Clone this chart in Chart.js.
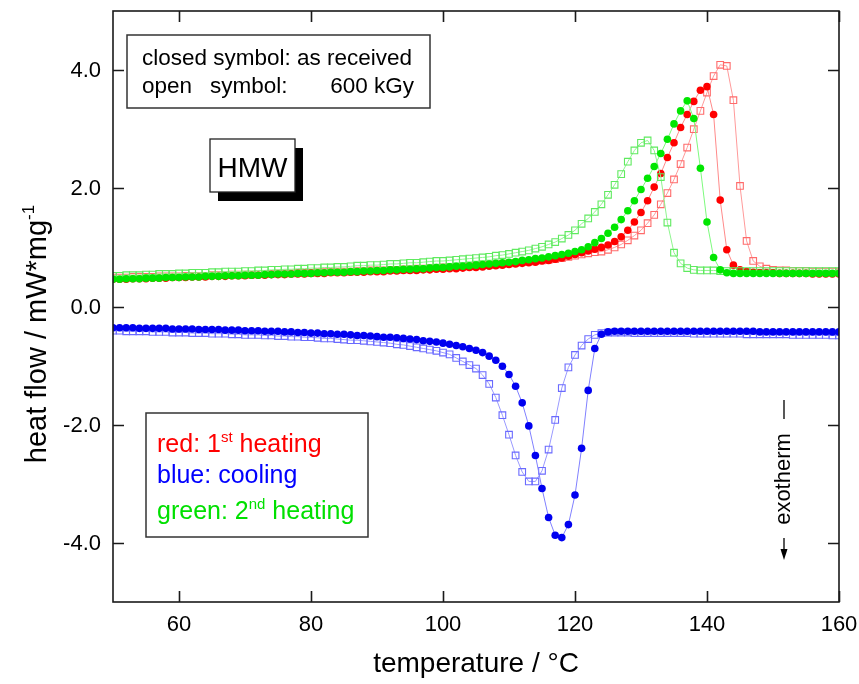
<!DOCTYPE html>
<html>
<head>
<meta charset="utf-8">
<script src="https://cdn.jsdelivr.net/npm/chart.js@4/dist/chart.umd.min.js"></script>
<style>
html,body{margin:0;padding:0;background:#fff;}
canvas{display:block;}
</style>
</head>
<body>
<canvas id="c" width="859" height="684"></canvas>
<script>
// ---------- DATA ----------
// temperature grid (°C), one sample per degree from 50 to 160
const temperature = Array.from({length: 111}, (_, i) => 50 + i);
const xTicks = [60, 80, 100, 120, 140, 160];
const yTicks = [-4, -2, 0, 2, 4];
const yTickLabels = ['-4.0', '-2.0', '0.0', '2.0', '4.0'];

// red: 1st heating, closed = as received
const heat1Received = [
  0.46,0.46,0.46,0.47,0.47,0.47,0.48,0.48,0.48,0.49,
  0.49,0.49,0.50,0.50,0.50,0.51,0.51,0.51,0.52,0.52,
  0.52,0.53,0.53,0.53,0.54,0.54,0.54,0.55,0.55,0.55,
  0.56,0.56,0.56,0.57,0.57,0.57,0.58,0.58,0.58,0.59,
  0.59,0.59,0.60,0.60,0.61,0.61,0.61,0.62,0.62,0.63,
  0.63,0.64,0.64,0.65,0.66,0.66,0.67,0.68,0.69,0.70,
  0.71,0.72,0.73,0.74,0.75,0.77,0.78,0.80,0.82,0.85,
  0.88,0.91,0.94,0.97,1.00,1.04,1.10,1.18,1.29,1.43,
  1.59,1.79,2.02,2.25,2.52,2.77,3.03,3.25,3.47,3.66,
  3.72,3.25,1.80,0.96,0.70,0.62,0.59,0.58,0.57,0.57,
  0.57,0.56,0.56,0.56,0.56,0.56,0.55,0.55,0.55,0.55,0.55
];
// red: 1st heating, open = 600 kGy
const heat1Irradiated = [
  0.49,0.49,0.49,0.50,0.50,0.50,0.50,0.51,0.51,0.51,
  0.51,0.52,0.52,0.52,0.52,0.53,0.53,0.53,0.54,0.54,
  0.54,0.54,0.55,0.55,0.55,0.56,0.56,0.56,0.57,0.57,
  0.57,0.58,0.58,0.58,0.59,0.59,0.59,0.60,0.60,0.61,
  0.61,0.61,0.62,0.62,0.63,0.63,0.64,0.64,0.65,0.65,
  0.66,0.66,0.67,0.68,0.68,0.69,0.70,0.70,0.71,0.72,
  0.73,0.74,0.75,0.76,0.77,0.78,0.79,0.80,0.82,0.84,
  0.86,0.88,0.90,0.92,0.93,0.96,1.00,1.05,1.12,1.20,
  1.29,1.41,1.55,1.73,1.92,2.15,2.41,2.69,3.00,3.31,
  3.62,3.90,4.09,4.07,3.49,2.04,1.11,0.77,0.68,0.64,
  0.62,0.61,0.61,0.60,0.60,0.60,0.59,0.59,0.59,0.59,0.58
];
// green: 2nd heating, closed = as received
const heat2Received = [
  0.46,0.46,0.47,0.47,0.47,0.48,0.48,0.48,0.49,0.49,
  0.49,0.50,0.50,0.50,0.51,0.51,0.51,0.52,0.52,0.52,
  0.53,0.53,0.53,0.54,0.54,0.55,0.55,0.55,0.56,0.56,
  0.56,0.57,0.57,0.58,0.58,0.58,0.59,0.59,0.60,0.60,
  0.61,0.61,0.62,0.62,0.63,0.63,0.64,0.64,0.65,0.66,
  0.66,0.67,0.68,0.68,0.69,0.70,0.71,0.72,0.73,0.74,
  0.75,0.76,0.78,0.79,0.81,0.82,0.84,0.86,0.88,0.90,
  0.93,0.96,1.01,1.08,1.15,1.24,1.34,1.47,1.62,1.79,
  1.98,2.17,2.37,2.59,2.83,3.09,3.31,3.48,3.18,2.34,
  1.43,0.83,0.62,0.57,0.56,0.56,0.56,0.56,0.56,0.56,
  0.56,0.56,0.56,0.56,0.56,0.56,0.56,0.56,0.56,0.56,0.56
];
// green: 2nd heating, open = 600 kGy
const heat2Irradiated = [
  0.52,0.52,0.53,0.53,0.53,0.54,0.54,0.55,0.55,0.55,
  0.56,0.56,0.57,0.57,0.57,0.58,0.58,0.59,0.59,0.59,
  0.60,0.60,0.61,0.61,0.62,0.62,0.63,0.63,0.64,0.64,
  0.65,0.65,0.66,0.66,0.67,0.67,0.68,0.69,0.69,0.70,
  0.70,0.71,0.72,0.72,0.73,0.74,0.74,0.75,0.76,0.77,
  0.77,0.78,0.79,0.80,0.81,0.82,0.83,0.84,0.86,0.87,
  0.89,0.91,0.93,0.95,0.98,1.01,1.05,1.09,1.15,1.21,
  1.29,1.40,1.49,1.60,1.73,1.89,2.06,2.24,2.45,2.64,
  2.77,2.81,2.64,2.19,1.42,0.91,0.73,0.65,0.62,0.61,
  0.61,0.61,0.60,0.60,0.60,0.60,0.60,0.60,0.60,0.60,
  0.60,0.60,0.60,0.60,0.60,0.60,0.60,0.60,0.60,0.60,0.60
];
// blue: cooling, closed = as received
const coolReceived = [
  -0.36,-0.36,-0.36,-0.36,-0.37,-0.37,-0.37,-0.37,-0.37,-0.38,
  -0.38,-0.38,-0.38,-0.39,-0.39,-0.39,-0.39,-0.40,-0.40,-0.40,
  -0.41,-0.41,-0.41,-0.42,-0.42,-0.42,-0.43,-0.43,-0.44,-0.44,
  -0.45,-0.45,-0.46,-0.46,-0.47,-0.47,-0.48,-0.49,-0.49,-0.50,
  -0.51,-0.52,-0.52,-0.53,-0.54,-0.55,-0.56,-0.58,-0.59,-0.60,
  -0.62,-0.64,-0.66,-0.68,-0.71,-0.74,-0.78,-0.84,-0.91,-1.01,
  -1.15,-1.35,-1.63,-2.02,-2.52,-3.08,-3.57,-3.87,-3.91,-3.69,
  -3.19,-2.40,-1.42,-0.71,-0.47,-0.43,-0.42,-0.42,-0.42,-0.42,
  -0.42,-0.42,-0.42,-0.42,-0.42,-0.42,-0.42,-0.42,-0.42,-0.42,
  -0.42,-0.42,-0.42,-0.42,-0.42,-0.42,-0.42,-0.42,-0.43,-0.43,
  -0.43,-0.43,-0.43,-0.43,-0.43,-0.43,-0.43,-0.43,-0.43,-0.43,-0.43
];
// blue: cooling, open = 600 kGy
const coolIrradiated = [
  -0.41,-0.41,-0.42,-0.42,-0.42,-0.42,-0.43,-0.43,-0.43,-0.44,
  -0.44,-0.44,-0.45,-0.45,-0.45,-0.46,-0.46,-0.46,-0.47,-0.47,
  -0.48,-0.48,-0.48,-0.49,-0.49,-0.50,-0.50,-0.51,-0.51,-0.52,
  -0.52,-0.53,-0.54,-0.54,-0.55,-0.56,-0.57,-0.57,-0.58,-0.59,
  -0.60,-0.61,-0.62,-0.64,-0.65,-0.67,-0.69,-0.71,-0.73,-0.75,
  -0.78,-0.81,-0.87,-0.93,-0.99,-1.05,-1.16,-1.31,-1.54,-1.84,
  -2.17,-2.52,-2.80,-2.96,-2.96,-2.78,-2.42,-1.92,-1.38,-1.03,
  -0.82,-0.66,-0.55,-0.48,-0.45,-0.44,-0.44,-0.44,-0.44,-0.45,
  -0.45,-0.45,-0.45,-0.45,-0.45,-0.45,-0.45,-0.45,-0.46,-0.46,
  -0.46,-0.46,-0.46,-0.46,-0.46,-0.46,-0.47,-0.47,-0.47,-0.47,
  -0.47,-0.47,-0.47,-0.48,-0.48,-0.48,-0.48,-0.48,-0.48,-0.49,-0.49
];

// ---------- CHART ----------
const FONT = '"Liberation Sans", Arial, Helvetica, sans-serif';
Chart.defaults.font.family = FONT;

function pts(vals) { return temperature.map((t, i) => ({x: t, y: vals[i]})); }

function filledSet(label, vals, color, lineColor) {
  return {
    label, data: pts(vals), showLine: true,
    borderColor: lineColor, borderWidth: 1,
    pointStyle: 'circle', pointRadius: 3.8,
    pointBackgroundColor: color, pointBorderColor: color, pointBorderWidth: 0,
    tension: 0
  };
}
function openSet(label, vals, color, lineColor) {
  return {
    label, data: pts(vals), showLine: true,
    borderColor: lineColor, borderWidth: 1,
    pointStyle: 'rect', pointRadius: 4.7,
    pointBackgroundColor: 'rgba(255,255,255,0)', pointBorderColor: color, pointBorderWidth: 1.1,
    tension: 0
  };
}

function richText(ctx, parts, x, y, size, align) {
  const supSize = Math.round(size * 0.6);
  let total = 0;
  const widths = parts.map(p => {
    ctx.font = (p[1] ? supSize : size) + 'px ' + FONT;
    const w = ctx.measureText(p[0]).width;
    total += w;
    return w;
  });
  let cx = align === 'center' ? x - total / 2 : x;
  ctx.textAlign = 'left';
  ctx.textBaseline = 'alphabetic';
  parts.forEach((p, i) => {
    ctx.font = (p[1] ? supSize : size) + 'px ' + FONT;
    ctx.fillText(p[0], cx, p[1] ? y - size * 0.42 : y);
    cx += widths[i];
  });
}

const decor = {
  id: 'decor',
  afterDraw(chart) {
    const ctx = chart.ctx;
    const a = chart.chartArea;
    const xs = chart.scales.x, ys = chart.scales.y;
    ctx.save();
    // frame
    ctx.strokeStyle = '#1a1a1a';
    ctx.lineWidth = 1.6;
    ctx.strokeRect(a.left, a.top, a.right - a.left, a.bottom - a.top);
    // inward ticks on all sides
    const TL = 11;
    ctx.beginPath();
    xTicks.forEach(v => {
      const px = Math.round(xs.getPixelForValue(v)) + 0.5;
      ctx.moveTo(px, a.bottom); ctx.lineTo(px, a.bottom - TL);
      ctx.moveTo(px, a.top); ctx.lineTo(px, a.top + TL);
    });
    yTicks.forEach(v => {
      const py = Math.round(ys.getPixelForValue(v)) + 0.5;
      ctx.moveTo(a.left, py); ctx.lineTo(a.left + TL, py);
      ctx.moveTo(a.right, py); ctx.lineTo(a.right - TL, py);
    });
    ctx.stroke();

    // tick labels
    ctx.fillStyle = '#000';
    ctx.font = '22px ' + FONT;
    ctx.textAlign = 'center';
    ctx.textBaseline = 'alphabetic';
    xTicks.forEach(v => ctx.fillText(String(v), xs.getPixelForValue(v), 631));
    ctx.textAlign = 'right';
    ctx.textBaseline = 'middle';
    yTicks.forEach((v, i) => ctx.fillText(yTickLabels[i], a.left - 12, ys.getPixelForValue(v) + 1));

    // axis titles
    ctx.textBaseline = 'alphabetic';
    ctx.font = '28px ' + FONT;
    ctx.textAlign = 'center';
    ctx.fillText('temperature / °C', (a.left + a.right) / 2, 672);

    ctx.save();
    ctx.translate(46, 334);
    ctx.rotate(-Math.PI / 2);
    richText(ctx, [['heat flow / mW*mg'], ['-1', true]], 0, 0, 29, 'center');
    ctx.restore();

    // info box
    ctx.fillStyle = '#fff';
    ctx.fillRect(127, 35, 303, 73);
    ctx.strokeStyle = '#333';
    ctx.lineWidth = 1.5;
    ctx.strokeRect(127, 35, 303, 73);
    ctx.fillStyle = '#000';
    ctx.font = '22.5px ' + FONT;
    ctx.textAlign = 'left';
    ctx.fillText('closed symbol: as received', 142, 65);
    ctx.fillText('open', 142, 93);
    ctx.fillText('symbol:', 210, 93);
    ctx.textAlign = 'right';
    ctx.fillText('600 kGy', 414, 93);

    // HMW box with shadow
    ctx.fillStyle = '#000';
    ctx.fillRect(218, 148, 85, 53);
    ctx.fillStyle = '#fff';
    ctx.fillRect(210, 139, 85, 53);
    ctx.strokeStyle = '#222';
    ctx.lineWidth = 1.3;
    ctx.strokeRect(210, 139, 85, 53);
    ctx.fillStyle = '#000';
    ctx.font = '28px ' + FONT;
    ctx.textAlign = 'center';
    ctx.fillText('HMW', 252.5, 177);

    // colour legend box
    ctx.fillStyle = '#fff';
    ctx.fillRect(146, 413, 222, 124);
    ctx.strokeStyle = '#333';
    ctx.lineWidth = 1.5;
    ctx.strokeRect(146, 413, 222, 124);
    ctx.fillStyle = '#ff0000';
    richText(ctx, [['red: 1'], ['st', true], [' heating']], 157, 452, 25);
    ctx.fillStyle = '#0000ff';
    richText(ctx, [['blue: cooling']], 157, 483, 25);
    ctx.fillStyle = '#00e000';
    richText(ctx, [['green: 2'], ['nd', true], [' heating']], 157, 519, 25);

    // exotherm marker
    ctx.fillStyle = '#000';
    ctx.save();
    ctx.translate(790, 479);
    ctx.rotate(-Math.PI / 2);
    ctx.font = '22px ' + FONT;
    ctx.textAlign = 'center';
    ctx.fillText('exotherm', 0, 0);
    ctx.restore();
    ctx.strokeStyle = '#000';
    ctx.lineWidth = 1.3;
    ctx.beginPath();
    ctx.moveTo(784, 400); ctx.lineTo(784, 419);
    ctx.moveTo(784, 538); ctx.lineTo(784, 552);
    ctx.stroke();
    ctx.beginPath();
    ctx.moveTo(780.5, 549); ctx.lineTo(787.5, 549); ctx.lineTo(784, 560); ctx.closePath();
    ctx.fill();
    ctx.restore();
  }
};

new Chart(document.getElementById('c'), {
  type: 'scatter',
  data: {
    datasets: [
      filledSet('2nd heating, as received', heat2Received, '#00e600', '#7dfa7d'),
      openSet('2nd heating, 600 kGy', heat2Irradiated, '#5fea5f', '#8ff58f'),
      filledSet('1st heating, as received', heat1Received, '#ff0000', '#ff8a8a'),
      openSet('1st heating, 600 kGy', heat1Irradiated, '#ff6b6b', '#ff9a9a'),
      filledSet('cooling, as received', coolReceived, '#0000f0', '#8080ff'),
      openSet('cooling, 600 kGy', coolIrradiated, '#6a6aff', '#9a9aff')
    ]
  },
  options: {
    responsive: false,
    devicePixelRatio: 1,
    animation: false,
    layout: {padding: {top: 11, right: 20, left: 0, bottom: 0}},
    plugins: {legend: {display: false}, tooltip: {enabled: false}},
    scales: {
      x: {
        type: 'linear', min: 50, max: 160,
        afterBuildTicks: s => { s.ticks = xTicks.map(v => ({value: v})); },
        afterFit: s => { s.height = 82; },
        grid: {display: false, drawTicks: false},
        border: {display: false},
        ticks: {display: false}
      },
      y: {
        type: 'linear', min: -5, max: 5,
        afterBuildTicks: s => { s.ticks = yTicks.map(v => ({value: v})); },
        afterFit: s => { s.width = 113; },
        grid: {display: false, drawTicks: false},
        border: {display: false},
        ticks: {display: false}
      }
    }
  },
  plugins: [decor]
});
</script>
</body>
</html>
